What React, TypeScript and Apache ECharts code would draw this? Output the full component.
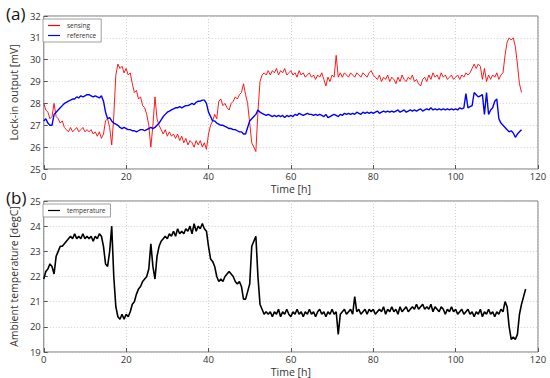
import React, { useEffect, useRef } from "react";
import * as echarts from "echarts";

// sampling interval of the readings [h]
const SAMPLE_STEP_H = 0.5;

// (a) lock-in output [mV], one value every 0.5 h from t = 0 h
const sensing = [
  28.0, 27.7, 27.6, 27.3, 27.4, 28.0, 27.4, 27.3, 27.1, 27.2,
  26.9, 26.8, 26.7, 26.9, 26.7, 26.8, 26.9, 26.7, 26.8, 26.9,
  26.7, 26.8, 26.7, 26.8, 26.6, 26.7, 26.5, 26.7, 26.4, 26.6,
  27.2, 27.3, 26.9, 26.1, 27.4, 29.3, 29.8, 29.6, 29.7, 29.4,
  29.6, 29.3, 29.4, 28.9, 28.5, 28.6, 28.2, 28.3, 27.9, 27.8,
  27.5, 27.0, 26.0, 27.0, 28.3, 27.3, 27.0, 26.8, 26.6, 26.8,
  26.5, 26.7, 26.5, 26.6, 26.4, 26.6, 26.3, 26.5, 26.2, 26.4,
  26.1, 26.3, 26.2, 26.0, 26.3, 26.1, 26.3, 26.0, 26.2, 25.9,
  26.6, 27.0, 27.2, 27.5, 27.3, 28.1, 28.2, 27.9, 28.0, 27.8,
  27.7, 28.0, 28.1, 28.3, 28.2, 28.4, 28.5, 28.9, 28.4, 28.0,
  27.1, 26.2, 26.0, 25.8, 27.6, 29.0, 29.3, 29.4, 29.3, 29.5,
  29.3, 29.5, 29.4, 29.6, 29.3, 29.5, 29.4, 29.6, 29.3, 29.4,
  29.5, 29.3, 29.4, 29.2, 29.5, 29.3, 29.4, 29.2, 29.3, 29.4,
  29.2, 29.3, 29.1, 29.3, 29.2, 29.4, 29.1, 28.8, 29.2, 29.0,
  29.3, 29.2, 30.2, 29.2, 29.4, 29.2, 29.4, 29.3, 29.2, 29.4,
  29.3, 29.2, 29.4, 29.3, 29.2, 29.4, 29.3, 29.2, 29.4, 29.5,
  29.3, 29.2, 29.1, 29.3, 29.0, 29.2, 29.1, 29.3, 29.0, 29.2,
  29.1, 28.9, 29.2, 29.0, 29.3, 29.1, 29.0, 29.2, 29.1, 29.3,
  29.0, 29.1, 28.9, 28.8, 29.1, 29.2, 29.0, 29.3, 29.1, 29.4,
  29.2, 29.3, 29.1, 29.4, 29.2, 29.3, 29.1, 29.2, 29.3, 29.1,
  29.2, 29.3, 29.1, 29.3, 29.2, 29.4, 29.3, 29.4, 29.6, 29.8,
  29.6, 29.8, 29.7, 29.1, 29.6, 29.0, 29.3, 29.1, 29.3, 29.2,
  29.4, 29.1, 29.3, 29.4, 30.2, 30.8, 31.0, 30.9, 31.0, 30.6,
  29.8, 28.9, 28.5,
];

const reference = [
  27.2, 27.3, 27.1, 27.0, 27.0, 27.5, 27.6, 27.7, 27.8, 27.9,
  28.0, 28.05, 28.1, 28.15, 28.2, 28.2, 28.3, 28.25, 28.35, 28.3,
  28.35, 28.4, 28.4, 28.35, 28.3, 28.35, 28.3, 28.25, 28.35, 28.1,
  27.6, 27.3, 27.35, 27.2, 27.1, 27.05, 27.0, 26.9, 26.85, 26.9,
  26.85, 26.8, 26.8, 26.75, 26.75, 26.7, 26.75, 26.8, 26.8, 26.75,
  26.8, 26.85, 26.9, 26.85, 26.9, 27.0, 27.1, 27.25, 27.4, 27.5,
  27.6, 27.65, 27.7, 27.75, 27.8, 27.8, 27.85, 27.8, 27.85, 27.9,
  27.9, 27.95, 28.0, 27.95, 28.05, 28.1, 28.1, 28.15, 28.15, 28.0,
  27.6, 27.4, 27.2, 27.2, 27.1, 27.05, 27.0, 27.0, 26.95, 26.9,
  26.85, 26.85, 26.8, 26.8, 26.75, 26.7, 26.7, 26.6, 26.6, 26.9,
  27.2, 27.3, 27.4, 27.5, 27.7, 27.6, 27.55, 27.5, 27.45, 27.5,
  27.45, 27.4, 27.45, 27.4, 27.45, 27.4, 27.45, 27.35, 27.45, 27.4,
  27.45, 27.4, 27.5, 27.45, 27.55, 27.5, 27.45, 27.5, 27.55, 27.5,
  27.5, 27.45, 27.5, 27.45, 27.5, 27.45, 27.4, 27.5, 27.35, 27.4,
  27.45, 27.5, 27.45, 27.4, 27.5, 27.45, 27.55, 27.5, 27.55, 27.5,
  27.55, 27.5, 27.6, 27.55, 27.5, 27.6, 27.55, 27.6, 27.55, 27.6,
  27.55, 27.6, 27.65, 27.55, 27.6, 27.65, 27.6, 27.65, 27.6, 27.65,
  27.6, 27.65, 27.7, 27.6, 27.65, 27.7, 27.6, 27.65, 27.7, 27.65,
  27.7, 27.65, 27.7, 27.75, 27.65, 27.7, 27.75, 27.7, 27.8, 27.7,
  27.75, 27.7, 27.75, 27.7, 27.75, 27.7, 27.75, 27.7, 27.75, 27.7,
  27.75, 27.7, 27.8, 27.75, 27.8, 28.45, 27.8, 27.85, 27.9, 28.5,
  28.4, 28.3, 28.35, 28.4, 27.5, 28.5, 27.5, 27.7, 27.8, 28.1,
  28.2, 27.3, 27.1, 27.0, 26.9, 26.8, 26.7, 26.75, 26.65, 26.45,
  26.6, 26.7, 26.8,
];

// (b) ambient temperature [degC], one value every 0.5 h from t = 0 h
const temperature = [
  21.9, 22.2, 22.3, 22.5, 22.4, 22.1, 22.8, 23.0, 23.2, 23.2,
  23.3, 23.4, 23.5, 23.6, 23.5, 23.7, 23.5, 23.6, 23.5, 23.7,
  23.5, 23.6, 23.5, 23.6, 23.4, 23.6, 23.5, 23.7, 23.6, 23.2,
  22.5, 22.4, 23.0, 24.0, 22.0, 20.8, 20.4, 20.3, 20.5, 20.3,
  20.5, 20.4, 20.6, 20.9, 21.0, 21.3, 21.5, 21.6, 21.8, 21.9,
  22.0, 22.3, 23.3, 22.4, 21.9, 22.8, 23.2, 23.4, 23.5, 23.6,
  23.5, 23.7, 23.6, 23.8, 23.6, 23.9, 23.7, 23.8, 23.7, 23.9,
  23.8, 24.0, 23.7, 24.1, 23.8, 24.0, 23.9, 24.1, 23.9, 23.8,
  23.2, 22.7, 22.6, 22.4, 22.0, 21.8, 21.9, 21.8, 22.0, 22.1,
  22.2, 22.1, 22.0, 21.8, 21.7, 21.8, 21.6, 21.1, 21.1, 21.4,
  21.7, 23.2, 23.4, 23.6, 22.0, 20.9, 20.7, 20.5, 20.6, 20.5,
  20.6, 20.4, 20.6, 20.5, 20.7, 20.4, 20.6, 20.5, 20.7, 20.5,
  20.4, 20.6, 20.5, 20.7, 20.5, 20.6, 20.4, 20.6, 20.5, 20.7,
  20.5, 20.6, 20.4, 20.6, 20.7, 20.5, 20.6, 20.4, 20.6, 20.5,
  20.7, 20.5, 20.6, 19.7, 20.5, 20.6, 20.7, 20.5, 20.6, 20.7,
  20.5, 21.2, 20.6, 20.7, 20.5, 20.6, 20.7, 20.5, 20.7, 20.6,
  20.7, 20.5, 20.6, 20.7, 20.6, 20.8, 20.5, 20.7, 20.6, 20.8,
  20.6, 20.7, 20.5, 20.8, 20.6, 20.7, 20.8, 20.6, 20.7, 20.8,
  20.7, 20.9, 20.7, 20.8, 20.9, 20.7, 20.8, 20.7, 20.9, 20.6,
  20.8, 20.7, 20.6, 20.8, 20.7, 20.5, 20.7, 20.6, 20.8, 20.6,
  20.7, 20.5, 20.6, 20.7, 20.5, 20.6, 20.7, 20.5, 20.6, 20.4,
  20.6, 20.5, 20.7, 20.4, 20.6, 20.5, 20.7, 20.5, 20.6, 20.4,
  20.6, 20.5, 20.7, 20.6, 21.0, 20.8, 20.0, 19.5, 19.6, 19.5,
  19.7, 20.5, 20.9, 21.2, 21.5,
];

const timeTicks = { min: 0, max: 120, interval: 20 };
const topYTicks = { min: 25, max: 32, interval: 1 };
const bottomYTicks = { min: 19, max: 25, interval: 1 };

const toPairs = (vals: number[]) => vals.map((v, i) => [i * SAMPLE_STEP_H, v]);

const FONT = "Open Sans";
const TXT = "#333";

function xAxisCfg(gridIndex: number) {
  return {
    type: "value",
    gridIndex,
    ...timeTicks,
    name: "Time [h]",
    nameLocation: "middle",
    nameGap: 14,
    nameTextStyle: { fontFamily: FONT, fontSize: 10.5, color: TXT },
    axisLine: { show: false },
    axisTick: { show: true, inside: true, length: 4, lineStyle: { color: "#555" } },
    axisLabel: { fontFamily: FONT, fontSize: 9.5, color: TXT, margin: 2 },
    splitLine: { show: true, lineStyle: { color: "#d0d0d0", type: [1, 2], width: 1 } },
  };
}

function yAxisCfg(gridIndex: number, ticks: any, name: string) {
  return {
    type: "value",
    gridIndex,
    ...ticks,
    name,
    nameLocation: "middle",
    nameGap: 18,
    nameTextStyle: { fontFamily: FONT, fontSize: 10.5, color: TXT },
    axisLine: { show: false },
    axisTick: { show: true, inside: true, length: 4, lineStyle: { color: "#555" } },
    axisLabel: { fontFamily: FONT, fontSize: 9.5, color: TXT, margin: 3 },
    splitLine: { show: true, lineStyle: { color: "#d0d0d0", type: [1, 2], width: 1 } },
  };
}

export default function App() {
  const ref = useRef<HTMLDivElement>(null);
  useEffect(() => {
    document.body.style.margin = "0";
    if (!ref.current) return;
    const chart = echarts.init(ref.current, null, { renderer: "svg" });
    const lineSeries = (name: string, vals: number[], color: string, idx: number, w: number) => ({
      name,
      type: "line",
      xAxisIndex: idx,
      yAxisIndex: idx,
      data: toPairs(vals),
      showSymbol: false,
      symbol: "none",
      lineStyle: { color, width: w },
      itemStyle: { color },
      silent: true,
    });
    chart.setOption({
      animation: false,
      backgroundColor: "#fff",
      title: [
        { text: "(a)", left: 1, top: 0, textStyle: { fontFamily: FONT, fontSize: 17, fontWeight: "normal", color: "#111" } },
        { text: "(b)", left: 1, top: 184, textStyle: { fontFamily: FONT, fontSize: 17, fontWeight: "normal", color: "#111" } },
      ],
      grid: [
        { left: 41, top: 16, width: 497, height: 153, show: true, borderColor: "#777", borderWidth: 1, backgroundColor: "transparent" },
        { left: 41, top: 201, width: 497, height: 153, show: true, borderColor: "#777", borderWidth: 1, backgroundColor: "transparent" },
      ],
      legend: [
        {
          data: ["sensing", "reference"],
          orient: "vertical",
          left: 43,
          top: 19,
          icon: "rect",
          itemWidth: 12,
          itemHeight: 1.2,
          itemGap: 3,
          padding: [3, 5, 3, 5],
          borderColor: "#888",
          borderWidth: 0.8,
          borderRadius: 0,
          backgroundColor: "#fff",
          textStyle: { fontFamily: FONT, fontSize: 6.5, color: TXT, padding: [0, 0, 0, 2] },
        },
        {
          data: ["temperature"],
          orient: "vertical",
          left: 43,
          top: 204,
          icon: "rect",
          itemWidth: 12,
          itemHeight: 1.2,
          padding: [3, 5, 3, 5],
          borderColor: "#888",
          borderWidth: 0.8,
          borderRadius: 0,
          backgroundColor: "#fff",
          textStyle: { fontFamily: FONT, fontSize: 6.5, color: TXT, padding: [0, 0, 0, 2] },
        },
      ],
      xAxis: [xAxisCfg(0), xAxisCfg(1)],
      yAxis: [
        yAxisCfg(0, topYTicks, "Lock-in output [mV]"),
        yAxisCfg(1, bottomYTicks, "Ambient temperature [degC]"),
      ],
      series: [
        lineSeries("sensing", sensing, "#ff0000", 0, 0.9),
        lineSeries("reference", reference, "#0000ff", 0, 1.4),
        lineSeries("temperature", temperature, "#000000", 1, 1.6),
      ],
    });
    return () => chart.dispose();
  }, []);
  return <div ref={ref} style={{ width: 550, height: 378 }} />;
}
